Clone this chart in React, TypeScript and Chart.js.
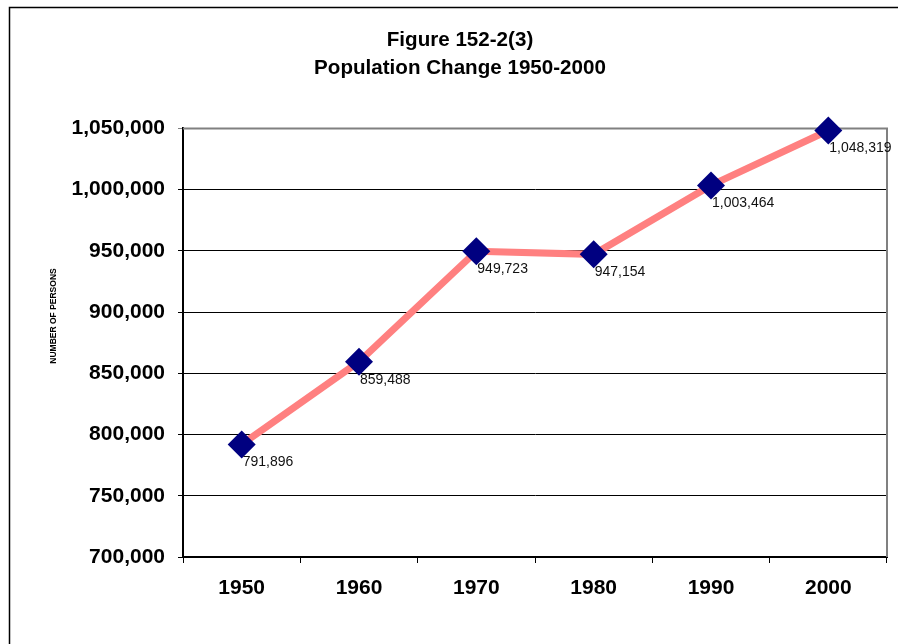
import React, { useEffect, useRef } from "react";
import { Chart, registerables } from "chart.js";

Chart.register(...registerables);

const years = ["1950", "1960", "1970", "1980", "1990", "2000"];
const population = [791896, 859488, 949723, 947154, 1003464, 1048319];
const titleLines = ["Figure 152-2(3)", "Population Change 1950-2000"];
const yAxisTitle = "NUMBER OF PERSONS";
const yMin = 700000;
const yMax = 1050000;
const yStep = 50000;

const FONT = "Arial, 'Liberation Sans', Helvetica, sans-serif";

const fmt = (v: number) => v.toLocaleString("en-US");

const framePlugin = {
  id: "frame",
  beforeDraw(chart: any) {
    const { ctx } = chart;
    ctx.save();
    ctx.fillStyle = "#ffffff";
    ctx.fillRect(0, 0, chart.width, chart.height);
    ctx.strokeStyle = "#000000";
    ctx.lineWidth = 1.5;
    ctx.beginPath();
    ctx.moveTo(9.5, chart.height + 5);
    ctx.lineTo(9.5, 7.5);
    ctx.lineTo(chart.width + 5, 7.5);
    ctx.stroke();
    ctx.restore();
  },
  beforeDatasetsDraw(chart: any) {
    const { ctx, chartArea } = chart;
    ctx.save();
    ctx.strokeStyle = "#808080";
    ctx.lineWidth = 2;
    ctx.beginPath();
    ctx.moveTo(chartArea.left, chartArea.top);
    ctx.lineTo(chartArea.right, chartArea.top);
    ctx.lineTo(chartArea.right, chartArea.bottom);
    ctx.stroke();
    ctx.restore();
  },
  afterDraw(chart: any) {
    const { ctx } = chart;
    ctx.save();
    ctx.translate(54, 316);
    ctx.rotate(-Math.PI / 2);
    ctx.fillStyle = "#000000";
    ctx.font = `bold 8.5px ${FONT}`;
    ctx.textAlign = "center";
    ctx.textBaseline = "middle";
    ctx.fillText(yAxisTitle, 0, 0);
    ctx.restore();
  },
};

const labelPlugin = {
  id: "pointLabels",
  afterDatasetsDraw(chart: any) {
    const { ctx } = chart;
    const meta = chart.getDatasetMeta(0);
    ctx.save();
    ctx.fillStyle = "#111111";
    ctx.font = `14px ${FONT}`;
    ctx.textAlign = "left";
    ctx.textBaseline = "middle";
    meta.data.forEach((pt: any, i: number) => {
      ctx.fillText(fmt(population[i]), pt.x + 1, pt.y + 18);
    });
    ctx.restore();
  },
};

export default function App() {
  const ref = useRef<HTMLCanvasElement | null>(null);

  useEffect(() => {
    document.body.style.margin = "0";
    const canvas = ref.current;
    if (!canvas) return;
    const chart = new Chart(canvas, {
      type: "line",
      data: {
        labels: years,
        datasets: [
          {
            data: population,
            borderColor: "#FF8080",
            borderWidth: 7,
            backgroundColor: "#000080",
            pointBackgroundColor: "#000080",
            pointBorderColor: "#000080",
            pointBorderWidth: 0,
            pointStyle: "rectRot",
            pointRadius: 14,
            pointHoverRadius: 14,
            tension: 0,
            fill: false,
            clip: false,
          } as any,
        ],
      },
      options: {
        responsive: false,
        animation: false,
        layout: { autoPadding: false, padding: { left: 33, right: 11, top: 0, bottom: 20 } },
        plugins: {
          legend: { display: false },
          tooltip: { enabled: false },
          title: {
            display: true,
            text: titleLines,
            color: "#000000",
            font: { family: FONT, size: 20.6, weight: "bold", lineHeight: 1.37 },
            padding: { top: 26, bottom: 46 },
          },
        },
        scales: {
          x: {
            type: "category",
            offset: true,
            grid: {
              offset: true,
              drawOnChartArea: false,
              drawTicks: true,
              tickLength: 6,
              color: "#000000",
              lineWidth: 1,
            },
            border: { display: true, color: "#000000", width: 2 },
            ticks: {
              color: "#000000",
              font: { family: FONT, size: 21, weight: "bold" },
              padding: 13,
              maxRotation: 0,
            },
            afterFit: (scale: any) => {
              scale.height = 67;
            },
          },
          y: {
            min: yMin,
            max: yMax,
            grid: {
              color: (c: any) => (c.tick && c.tick.value === yMax ? "#808080" : "#000000"),
              lineWidth: 1,
              drawTicks: true,
              tickLength: 5,
            },
            border: { display: true, color: "#000000", width: 2 },
            ticks: {
              stepSize: yStep,
              color: "#000000",
              font: { family: FONT, size: 21, weight: "bold" },
              padding: 13,
              callback: (v: any) => fmt(Number(v)),
            },
            afterFit: (scale: any) => {
              scale.width = 150;
            },
          },
        },
      },
      plugins: [framePlugin, labelPlugin],
    });
    return () => chart.destroy();
  }, []);

  return (
    <div style={{ width: 898, height: 644 }}>
      <canvas ref={ref} width={898} height={644} style={{ display: "block" }} />
    </div>
  );
}
